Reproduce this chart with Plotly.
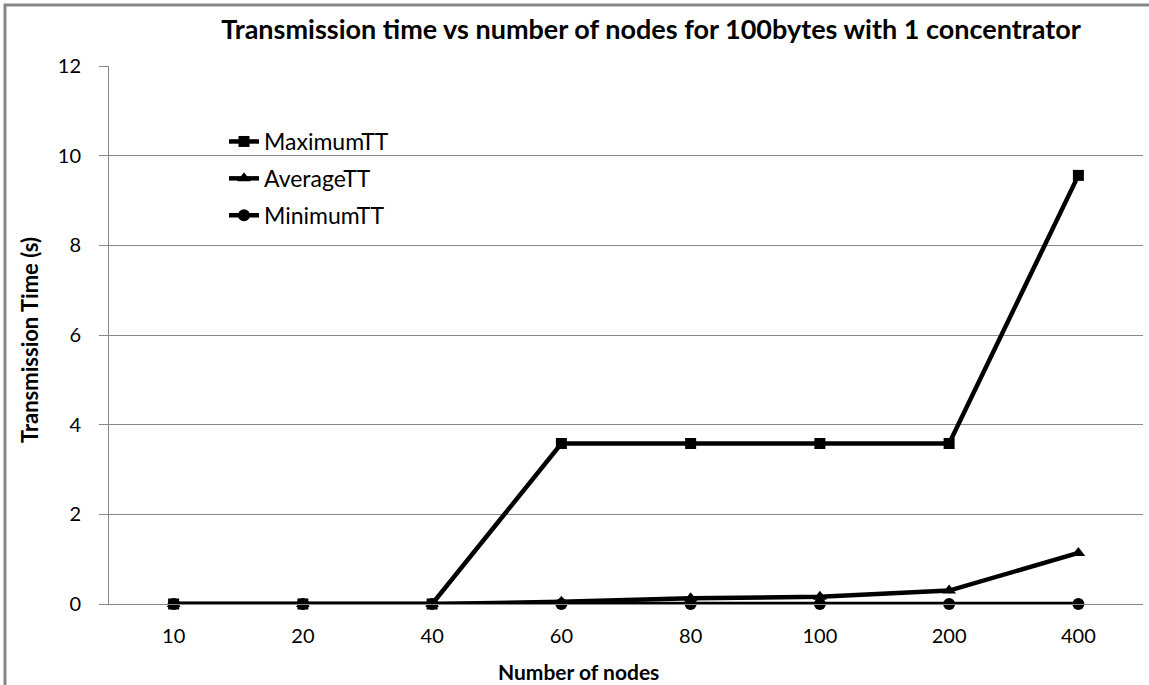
import plotly.graph_objects as go

nodes = ["10", "20", "40", "60", "80", "100", "200", "400"]
maximum_tt = [0, 0, 0, 3.58, 3.58, 3.58, 3.58, 9.56]
average_tt = [0, 0, 0, 0.05, 0.13, 0.16, 0.30, 1.14]
minimum_tt = [0, 0, 0, 0, 0, 0, 0, 0]

W, H = 1149, 685
L, R, T, B = 109, 6, 66, 81
pw, ph = W - L - R, H - T - B

font = "Lato, Open Sans, Liberation Sans, Arial"
grey = "#878787"


def px_x(p):
    return (p - L) / pw


def px_y(p):
    return (H - B - p) / ph


fig = go.Figure()
series = [
    ("MaximumTT", maximum_tt, "square", 11),
    ("AverageTT", average_tt, "triangle-up", 12),
    ("MinimumTT", minimum_tt, "circle", 12),
]
for name, vals, sym, size in series:
    fig.add_trace(go.Scatter(
        x=nodes, y=vals, name=name, legendgroup=name, mode="lines+markers",
        line=dict(color="black", width=4.5),
        marker=dict(symbol=sym, size=size, color="black"),
        cliponaxis=False,
    ))

# outer chart frame (left and top edges)
fig.add_shape(type="line", xref="paper", yref="paper",
              x0=px_x(5), x1=px_x(5), y0=px_y(4), y1=px_y(H + 5),
              line=dict(color=grey, width=3))
fig.add_shape(type="line", xref="paper", yref="paper",
              x0=px_x(4), x1=px_x(W + 5), y0=px_y(5), y1=px_y(5),
              line=dict(color=grey, width=3))

# axis titles
fig.add_annotation(text="<b>Number of nodes</b>", xref="paper", yref="paper",
                   x=px_x(578), y=px_y(671), showarrow=False,
                   xanchor="center", yanchor="middle",
                   font=dict(size=21, family=font, color="black"))
fig.add_annotation(text="<b>Transmission Time (s)</b>", xref="paper", yref="paper",
                   x=px_x(29), y=px_y(340), showarrow=False, textangle=-90,
                   xanchor="center", yanchor="middle",
                   font=dict(size=22, family=font, color="black"))

fig.update_layout(
    width=W, height=H,
    margin=dict(l=L, r=R, t=T, b=B),
    paper_bgcolor="white", plot_bgcolor="white",
    font=dict(family=font, color="black", size=20),
    title=dict(
        text="<b>Transmission time vs number of nodes for 100bytes with 1 concentrator</b>",
        x=px_x(651), xanchor="center", xref="paper",
        y=1 - 30 / H, yanchor="middle",
        font=dict(size=27, family=font, color="black"),
    ),
    showlegend=True,
    legend=dict(
        x=px_x(224), y=px_y(120), xanchor="left", yanchor="top",
        bgcolor="rgba(0,0,0,0)", font=dict(size=23, family=font),
        tracegroupgap=4,
    ),
    xaxis=dict(
        type="category", range=[-0.5, 7.5],
        showgrid=False, showline=True, linecolor=grey, linewidth=1,
        ticks="", tickfont=dict(size=20), ticklabelstandoff=14,
        zeroline=False,
    ),
    yaxis=dict(
        range=[0, 12], dtick=2, tick0=0,
        showgrid=True, gridcolor=grey, gridwidth=1,
        showline=True, linecolor=grey, linewidth=1,
        ticks="outside", ticklen=9, tickcolor=grey,
        tickfont=dict(size=20), ticklabelstandoff=14,
        zeroline=False,
    ),
)

fig.write_html("out.html")
